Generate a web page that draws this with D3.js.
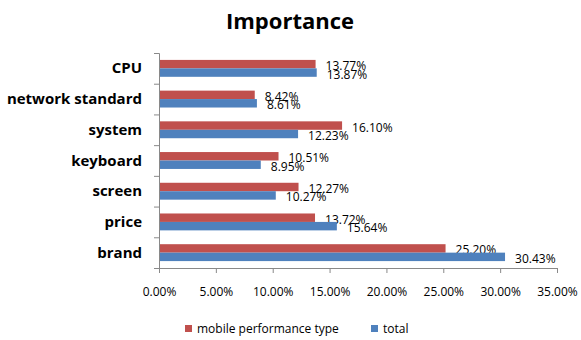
<!DOCTYPE html>
<html>
<head>
<meta charset="utf-8">
<script src="https://cdn.jsdelivr.net/npm/d3@7"></script>
<style>
  body { margin: 0; background: #fff; }
  svg { display: block; font-family: "Open Sans", "DejaVu Sans", sans-serif; }
</style>
</head>
<body>
<svg id="chart" width="581" height="340"></svg>
<script>
const categories = ["CPU", "network standard", "system", "keyboard", "screen", "price", "brand"];
const mobileValues = [13.77, 8.42, 16.10, 10.51, 12.27, 13.72, 25.20];
const totalValues = [13.87, 8.61, 12.23, 8.95, 10.27, 15.64, 30.43];
const seriesNames = ["mobile performance type", "total"];
const seriesColors = ["#c0504d", "#4f81bd"];
const xTicks = [0, 5, 10, 15, 20, 25, 30, 35];

const svg = d3.select("#chart");
const plotLeft = 159, plotRight = 557, plotTop = 53, plotBottom = 268;

const x = d3.scaleLinear().domain([0, 35]).range([plotLeft, plotRight]);
const y = d3.scaleBand().domain(categories).range([plotTop, plotBottom]).paddingInner(0.45).paddingOuter(0.225);
const sub = d3.scaleBand().domain([0, 1]).range([0, y.bandwidth()]);

const series = [mobileValues, totalValues];

// title
svg.append("text")
  .attr("x", 290).attr("y", 29)
  .attr("text-anchor", "middle")
  .style("font-size", "22px").style("font-weight", "bold")
  .text("Importance");

// bars + value labels
series.forEach((vals, si) => {
  const g = svg.append("g");
  g.selectAll("rect").data(vals).join("rect")
    .attr("x", x(0))
    .attr("y", (d, i) => y(categories[i]) + sub(si))
    .attr("width", d => x(d) - x(0))
    .attr("height", sub.bandwidth())
    .attr("fill", seriesColors[si]);
  g.selectAll("text").data(vals).join("text")
    .attr("x", d => x(d) + 10)
    .attr("y", (d, i) => y(categories[i]) + sub(si) + sub.bandwidth() / 2 + 6)
    .style("font-size", "12px").attr("fill", "#000")
    .text(d => d.toFixed(2) + "%");
});

// y axis
const yAxis = d3.axisLeft(d3.scaleLinear().domain([0, categories.length]).range([plotTop, plotBottom]))
  .tickValues(d3.range(categories.length + 1)).tickSize(5).tickFormat("");
const ya = svg.append("g").attr("transform", `translate(${plotLeft},0)`).call(yAxis);
ya.selectAll("path, line").attr("stroke", "#898989");

svg.append("g").selectAll("text").data(categories).join("text")
  .attr("x", 142)
  .attr("y", d => y(d) + y.bandwidth() / 2 + 5)
  .attr("text-anchor", "end")
  .style("font-size", "15px").style("font-weight", "bold")
  .text(d => d);

// x axis
const xAxis = d3.axisBottom(x).tickValues(xTicks).tickSize(5).tickPadding(14)
  .tickFormat(d => d.toFixed(2) + "%");
const xa = svg.append("g").attr("transform", `translate(0,${plotBottom})`).call(xAxis);
xa.select(".domain").attr("stroke", "#898989");
xa.selectAll("line").attr("stroke", "#898989");
xa.selectAll("text").style("font-size", "12px").style("font-family", "'Open Sans', sans-serif").attr("fill", "#000");

// legend
const legendX = [185, 371];
seriesNames.forEach((name, i) => {
  svg.append("rect").attr("x", legendX[i]).attr("y", 325).attr("width", 7).attr("height", 7).attr("fill", seriesColors[i]);
  svg.append("text").attr("x", legendX[i] + 12).attr("y", 333)
    .style("font-size", "12px").text(name);
});
</script>
</body>
</html>
